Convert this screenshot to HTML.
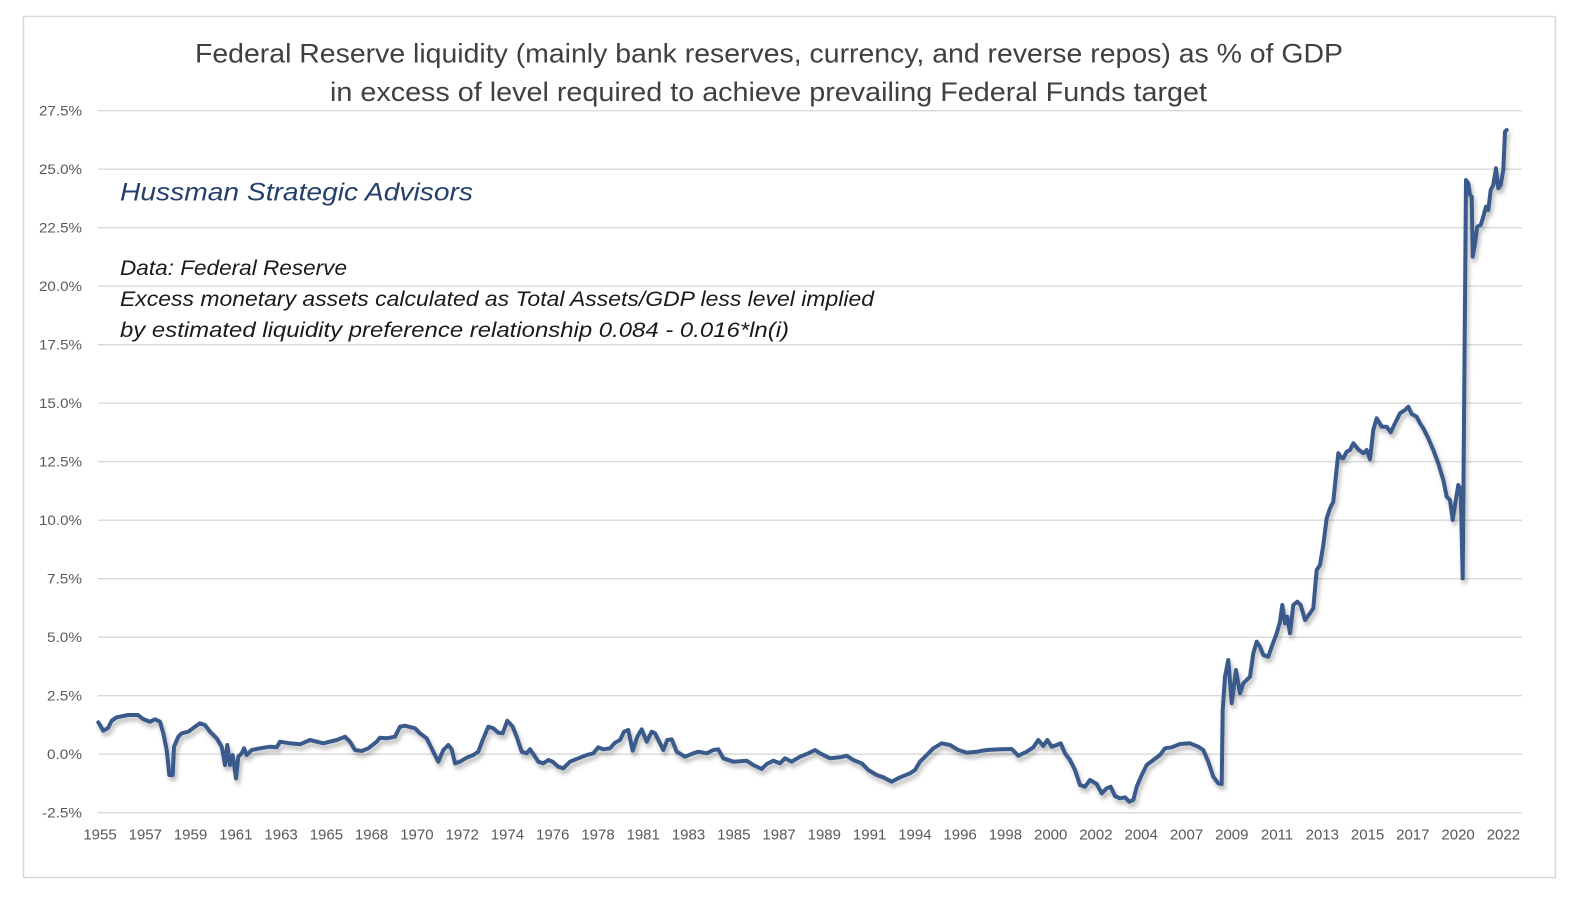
<!DOCTYPE html>
<html>
<head>
<meta charset="utf-8">
<style>
  html,body{margin:0;padding:0;background:#ffffff;}
  body{width:1576px;height:898px;overflow:hidden;}
  svg{display:block;}
  text{font-family:"Liberation Sans",sans-serif;}
</style>
</head>
<body>
<svg width="1576" height="898" viewBox="0 0 1576 898" xmlns="http://www.w3.org/2000/svg">
  <defs>
    <filter id="sh" x="-5%" y="-5%" width="110%" height="115%">
      <feDropShadow dx="2" dy="4" stdDeviation="2.2" flood-color="#000000" flood-opacity="0.28"/>
    </filter>
  </defs>
  <rect x="0" y="0" width="1576" height="898" fill="#ffffff"/>
  <rect x="23.5" y="16.5" width="1532" height="861" fill="#ffffff" stroke="#d9d9d9" stroke-width="1.5"/>

  <!-- gridlines -->
  <g stroke="#d9d9d9" stroke-width="1.3">
    <line x1="98" y1="110.7" x2="1522" y2="110.7"/>
    <line x1="98" y1="169.2" x2="1522" y2="169.2"/>
    <line x1="98" y1="227.7" x2="1522" y2="227.7"/>
    <line x1="98" y1="286.2" x2="1522" y2="286.2"/>
    <line x1="98" y1="344.7" x2="1522" y2="344.7"/>
    <line x1="98" y1="403.2" x2="1522" y2="403.2"/>
    <line x1="98" y1="461.7" x2="1522" y2="461.7"/>
    <line x1="98" y1="520.2" x2="1522" y2="520.2"/>
    <line x1="98" y1="578.7" x2="1522" y2="578.7"/>
    <line x1="98" y1="637.2" x2="1522" y2="637.2"/>
    <line x1="98" y1="695.7" x2="1522" y2="695.7"/>
    <line x1="98" y1="754.2" x2="1522" y2="754.2"/>
    <line x1="98" y1="812.7" x2="1522" y2="812.7"/>
  </g>

  <!-- y labels -->
  <g fill="#595959" font-size="14" text-anchor="end">
    <text x="82" y="115.7" textLength="43" lengthAdjust="spacingAndGlyphs">27.5%</text>
    <text x="82" y="174.2" textLength="43" lengthAdjust="spacingAndGlyphs">25.0%</text>
    <text x="82" y="232.7" textLength="43" lengthAdjust="spacingAndGlyphs">22.5%</text>
    <text x="82" y="291.2" textLength="43" lengthAdjust="spacingAndGlyphs">20.0%</text>
    <text x="82" y="349.7" textLength="43" lengthAdjust="spacingAndGlyphs">17.5%</text>
    <text x="82" y="408.2" textLength="43" lengthAdjust="spacingAndGlyphs">15.0%</text>
    <text x="82" y="466.7" textLength="43" lengthAdjust="spacingAndGlyphs">12.5%</text>
    <text x="82" y="525.2" textLength="43" lengthAdjust="spacingAndGlyphs">10.0%</text>
    <text x="82" y="583.7" textLength="35" lengthAdjust="spacingAndGlyphs">7.5%</text>
    <text x="82" y="642.2" textLength="35" lengthAdjust="spacingAndGlyphs">5.0%</text>
    <text x="82" y="700.7" textLength="35" lengthAdjust="spacingAndGlyphs">2.5%</text>
    <text x="82" y="759.2" textLength="35" lengthAdjust="spacingAndGlyphs">0.0%</text>
    <text x="82" y="817.7" textLength="40" lengthAdjust="spacingAndGlyphs">-2.5%</text>
  </g>

  <!-- x labels -->
  <g fill="#595959" font-size="15" text-anchor="middle">
    <text x="100.0" y="839.5">1955</text>
    <text x="145.3" y="839.5">1957</text>
    <text x="190.5" y="839.5">1959</text>
    <text x="235.8" y="839.5">1961</text>
    <text x="281.1" y="839.5">1963</text>
    <text x="326.4" y="839.5">1965</text>
    <text x="371.6" y="839.5">1968</text>
    <text x="416.9" y="839.5">1970</text>
    <text x="462.2" y="839.5">1972</text>
    <text x="507.4" y="839.5">1974</text>
    <text x="552.7" y="839.5">1976</text>
    <text x="598.0" y="839.5">1978</text>
    <text x="643.2" y="839.5">1981</text>
    <text x="688.5" y="839.5">1983</text>
    <text x="733.8" y="839.5">1985</text>
    <text x="779.1" y="839.5">1987</text>
    <text x="824.3" y="839.5">1989</text>
    <text x="869.6" y="839.5">1991</text>
    <text x="914.9" y="839.5">1994</text>
    <text x="960.1" y="839.5">1996</text>
    <text x="1005.4" y="839.5">1998</text>
    <text x="1050.7" y="839.5">2000</text>
    <text x="1095.9" y="839.5">2002</text>
    <text x="1141.2" y="839.5">2004</text>
    <text x="1186.5" y="839.5">2007</text>
    <text x="1231.8" y="839.5">2009</text>
    <text x="1277.0" y="839.5">2011</text>
    <text x="1322.3" y="839.5">2013</text>
    <text x="1367.6" y="839.5">2015</text>
    <text x="1412.8" y="839.5">2017</text>
    <text x="1458.1" y="839.5">2020</text>
    <text x="1503.4" y="839.5">2022</text>
  </g>

  <!-- title -->
  <text x="195" y="62.5" font-size="27" fill="#404040" textLength="1148" lengthAdjust="spacingAndGlyphs">Federal Reserve liquidity (mainly bank reserves, currency, and reverse repos) as % of GDP</text>
  <text x="330" y="101" font-size="27" fill="#404040" textLength="877" lengthAdjust="spacingAndGlyphs">in excess of level required to achieve prevailing Federal Funds target</text>

  <!-- annotations -->
  <text x="120" y="200.5" font-size="25" font-style="italic" fill="#243f6b" textLength="353" lengthAdjust="spacingAndGlyphs">Hussman Strategic Advisors</text>
  <g font-size="21" font-style="italic" fill="#1a1a1a">
    <text x="120" y="275" textLength="227" lengthAdjust="spacingAndGlyphs">Data: Federal Reserve</text>
    <text x="120" y="306" textLength="754" lengthAdjust="spacingAndGlyphs">Excess monetary assets calculated as Total Assets/GDP less level implied</text>
    <text x="120" y="337" textLength="669" lengthAdjust="spacingAndGlyphs">by estimated liquidity preference relationship 0.084 - 0.016*ln(i)</text>
  </g>

  <!-- series -->
  <polyline filter="url(#sh)" fill="none" stroke="#3a5a8c" stroke-width="4" stroke-linejoin="round" stroke-linecap="round"
    points="98.3,722.3 103.3,730.7 108,728 111.7,720.7 116.7,717.3 128,715 138,715 143,719 150,721.7 155,719.3 160,721.7 163.3,733.3 166.7,750 169.3,775 172.7,775 174,746.7 178.3,736.7 181.7,733.3 188.3,731.7 195,726.7 200,723.3 205,725 210,731.7 216.7,738.3 221.7,746.7 225,765 227.3,745 230,765 232.7,755 236,778.3 238.3,756.7 241.7,753.3 244,748.3 246.7,755 251.7,750 260,748.3 270,746.7 276.7,747.3 280,741.7 290,743.3 300,744.3 310,740 323.3,743.3 336.7,740 345,736.7 350,741.7 355,750 361.7,751 368.3,748.3 376.7,741.7 380,737.7 386.7,738.3 395,736.7 400,726.7 405,725.7 415,728.3 420,733.3 426.7,738.3 433.3,751.7 438.3,761.7 443.3,750 448.3,745 451.7,749.3 455,763.3 460,761.7 466.7,757.7 473.3,755 478.3,751.7 482.7,740 488.3,726.7 493.3,728.3 498.3,732.7 502.7,733.3 507.3,720.7 512.7,726.7 516.7,736.7 521.7,751.7 526.7,753.3 530,749.3 534,755 538.3,761.7 543.3,763.3 548.3,760 552.7,761.7 558.3,766.7 563.3,768.3 570,761.7 578.3,758.3 586.7,755 593.3,753.3 598.3,747.3 603.3,749.3 610,748.3 615,742.7 620,740 624,731.7 628.3,730 632.7,750.7 637.3,736.7 641.7,729.3 646.7,741.7 651.7,731.7 655,733.3 660,743.3 663.3,750 667.3,740 671.7,739.3 676.7,751.7 685,756.7 693.3,753.3 698.3,751.7 706.7,753.3 713.3,750 718.3,749.3 723.3,758.3 733.3,761.7 746.7,760.7 753.3,765 761.7,769 766.7,764 773.3,760.7 780,763.3 785,758.3 791.7,761.7 800,756.7 808.3,753.3 815,750 820,753.3 830,758.3 840,757.3 846.7,755.7 853.3,760 861.7,763.3 868.3,770 876.7,775 883.3,777.3 891.7,781.7 900,777.3 910,773.3 915,770 920,761.7 926.7,755 933.3,748.3 941.7,743.3 950,745 958.3,750 966.7,752.7 976.7,751.7 986.7,750 1000,749.3 1011.7,749 1018.3,755.7 1026.7,751.7 1033.3,747.3 1038.3,740 1043.3,746 1047.3,740 1051.7,746.7 1056.7,745 1060.7,743.3 1065,753.3 1070,760 1075,770 1080,785 1085,786.7 1090,780 1096.7,784 1101.7,793.3 1106.7,788.3 1110.7,786.7 1115,796 1120,798.3 1125,797.3 1129.3,801.7 1133.3,800 1136.7,786.7 1141.7,775 1146.7,765 1153.3,760 1160,755 1165,748.3 1171.7,747.3 1180,744 1190,743.3 1198.3,746.7 1203.3,750 1208.3,761.7 1213.3,776.7 1218.3,783.3 1221.7,784 1222.7,710 1225,676.7 1228.3,660 1231.7,703.3 1236,670 1240,693.3 1243.3,683.3 1250,676.7 1253.3,653.3 1256.7,641.7 1260,646.7 1263.3,655 1268.3,656.7 1271.7,646.7 1276.7,633.3 1280,621.7 1282.3,605 1285,623.3 1287.3,616.7 1290,633.3 1293.3,605 1297.3,601.7 1300.7,605 1305,620 1310,613.3 1313.3,608.3 1316.7,570 1320,565 1323.3,545 1326.7,518.3 1330,508.3 1333.3,501.7 1336,475 1338.3,453.3 1341.7,458.3 1343.3,458.3 1346.7,451.7 1350,450 1353.3,443.3 1358.3,449.3 1363.3,453.3 1366.7,450 1370,459.3 1373.3,430 1376.7,418.3 1381.7,426.7 1386.7,426.7 1390.7,432.3 1395,423.3 1400,413.3 1405,410 1408.3,406.7 1411.7,414 1416.7,416.7 1420,423.3 1423.3,428.3 1428.3,438.3 1433.3,450 1438.3,463.3 1443.3,480 1446.7,496.7 1450,500 1452.7,520 1455,505 1458.3,485 1460.7,490 1462.7,578.3 1466,180 1468.3,183.3 1470,195 1471.7,196.7 1472.7,256.7 1475,243.3 1477.3,226.7 1480.7,225 1483.3,216.7 1486,206.7 1488.3,210 1490.7,190 1493.3,185 1496,168.3 1498.3,188.3 1500.7,185 1503.3,170 1505,131.7 1506.7,130"/>
</svg>
</body>
</html>
